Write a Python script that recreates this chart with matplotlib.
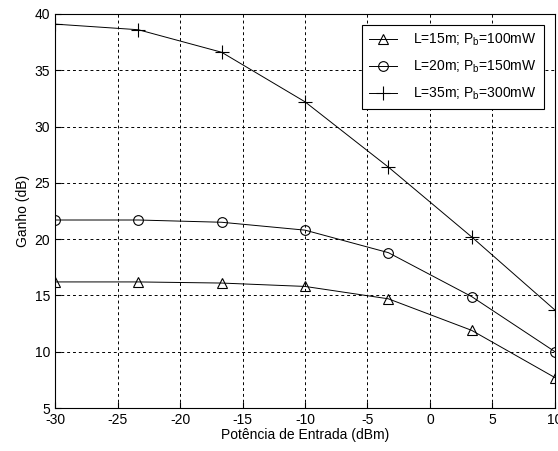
import matplotlib
matplotlib.use('Agg')
import matplotlib.pyplot as plt

plt.rcParams['font.family'] = ['Liberation Sans', 'DejaVu Sans']
plt.rcParams['axes.unicode_minus'] = False

potencia = [-30, -23.33, -16.67, -10, -3.33, 3.33, 10]
ganho_15m = [16.2, 16.2, 16.1, 15.8, 14.7, 11.9, 7.7]
ganho_20m = [21.7, 21.7, 21.5, 20.8, 18.8, 14.9, 10.0]
ganho_35m = [39.1, 38.6, 36.6, 32.2, 26.4, 20.2, 13.7]

labels = ["L=15m; P$_\\mathregular{b}$=100mW",
          "L=20m; P$_\\mathregular{b}$=150mW",
          "L=35m; P$_\\mathregular{b}$=300mW"]

fig = plt.figure(figsize=(5.58, 4.51), dpi=100)
ax = fig.add_axes([0.0986, 0.0953, 0.8960, 0.8737])

ax.plot(potencia, ganho_15m, '-^', color='k', lw=0.7, ms=7, mfc='none', mew=0.8, label=labels[0])
ax.plot(potencia, ganho_20m, '-o', color='k', lw=0.7, ms=7, mfc='none', mew=0.8, label=labels[1])
ax.plot(potencia, ganho_35m, '-+', color='k', lw=0.7, ms=10, mew=0.8, label=labels[2])

ax.set_xlim(-30, 10)
ax.set_ylim(5, 40)
ax.set_xticks(range(-30, 11, 5))
ax.set_yticks(range(5, 41, 5))
ax.grid(True, color='k', linestyle=(0, (3, 3)), linewidth=0.7)
ax.tick_params(direction='in', labelsize=10, length=4, width=0.8)
for s in ax.spines.values():
    s.set_linewidth(0.8)

ax.set_xlabel("Potência de Entrada (dBm)", fontsize=10, labelpad=1)
ax.set_ylabel("Ganho (dB)", fontsize=10, labelpad=3)

leg = ax.legend(loc='upper right', fontsize=10, fancybox=False, framealpha=1,
                edgecolor='k', handlelength=2.0, borderaxespad=0.8,
                labelspacing=0.75, borderpad=0.5, handletextpad=1.2)
leg.get_frame().set_linewidth(0.8)

fig.savefig('out.png', dpi=100)
